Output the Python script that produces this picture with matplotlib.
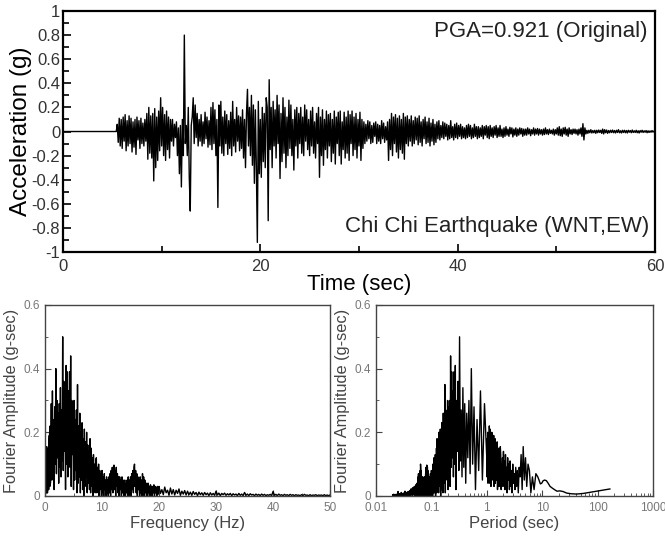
import numpy as np
import matplotlib
matplotlib.use("Agg")
import matplotlib.pyplot as plt
from matplotlib.ticker import MultipleLocator, FuncFormatter, LogLocator

plt.rcParams["font.family"] = ["Liberation Sans", "DejaVu Sans"]
plt.rcParams["axes.unicode_minus"] = False

# accelerogram, dt = 0.1 s, flat before the P-wave arrival
dt = 0.1
acc_pre = np.zeros(50)  # 0.0 - 4.9 s
acc = [
    # 5 s
    0, 0, 0, 0, 0, 0.06, -0.09, 0.11, -0.12, 0.1,
    -0.14, 0.12, -0.08, 0.14, -0.16, 0.09, -0.12, 0.13, -0.1, 0.11,
    -0.17, 0.08, -0.13, 0.1, -0.19, 0.12, -0.07, 0.09, -0.14, 0.11,
    -0.1, 0.07, -0.12, 0.1, -0.08, 0.15, -0.23, 0.2, -0.18, 0.13,
    -0.22, 0.15, -0.41, 0.19, -0.3, 0.12, -0.24, 0.17, -0.16, 0.28,
    # 10 s
    -0.12, 0.2, -0.2, 0.14, -0.24, 0.17, -0.15, 0.12, -0.22, 0.1,
    -0.08, 0.1, -0.12, 0.06, -0.05, 0.08, -0.2, 0.03, -0.35, 0.05,
    -0.46, 0.1, -0.2, 0.80, -0.1, 0.05, -0.2, 0.2, -0.38, -0.66,
    0.05, 0.12, 0.28, -0.1, 0.22, -0.05, 0.15, -0.12, 0.1, -0.08,
    0.14, -0.12, 0.08, -0.1, 0.16, -0.06, 0.12, -0.13, 0.09, -0.11,
    # 15 s
    0.2, -0.15, 0.24, -0.1, 0.18, -0.2, 0.1, -0.63, 0.22, -0.12,
    0.25, -0.18, 0.12, -0.2, 0.17, -0.1, 0.14, -0.19, 0.09, -0.14,
    0.16, -0.2, 0.25, -0.12, 0.1, -0.17, 0.2, -0.08, 0.13, -0.16,
    0.12, -0.14, 0.18, -0.22, 0.1, -0.3, 0.15, 0.35, -0.12, 0.2,
    -0.2, 0.3, -0.28, 0.22, -0.43, 0.18, -0.3, -0.92, 0.25, -0.35,
    # 20 s
    0.1, -0.38, 0.2, -0.25, 0.15, -0.3, 0.28, 0.2, -0.74, 0.43,
    -0.15, 0.2, -0.3, 0.25, -0.12, 0.18, -0.22, 0.3, -0.1, 0.22,
    -0.39, 0.15, -0.25, 0.28, -0.18, 0.2, -0.3, 0.12, -0.2, 0.26,
    -0.14, 0.22, -0.2, 0.1, -0.32, 0.18, -0.12, 0.2, -0.22, 0.15,
    -0.1, 0.2, -0.18, 0.12, -0.2, 0.22, -0.08, 0.18, -0.15, 0.1,
    # 25 s
    -0.2, 0.17, -0.12, 0.2, -0.18, 0.08, -0.22, 0.15, -0.1, 0.2,
    -0.38, 0.12, -0.2, 0.18, -0.28, 0.1, -0.15, 0.17, -0.22, 0.14,
    -0.12, 0.15, -0.25, 0.1, -0.18, 0.17, -0.27, 0.12, -0.1, 0.16,
    -0.2, 0.17, -0.27, 0.08, -0.15, 0.16, -0.22, 0.12, -0.18, 0.17,
    -0.24, 0.14, -0.1, 0.17, -0.2, 0.12, -0.15, 0.15, -0.22, 0.1,
    # 30 s
    -0.12, 0.16, -0.24, 0.1, -0.14, 0.08, -0.1, 0.06, -0.08, 0.09,
    -0.06, 0.08, -0.1, 0.05, -0.09, 0.07, -0.04, 0.08, -0.1, 0.06,
    -0.08, 0.05, -0.1, 0.09, -0.06, 0.07, -0.09, 0.04, -0.07, 0.08,
    -0.24, 0.1, -0.15, 0.15, -0.2, 0.12, -0.1, 0.14, -0.17, 0.11,
    -0.22, 0.13, -0.15, 0.1, -0.18, 0.15, -0.23, 0.12, -0.1, 0.13,
    # 35 s
    -0.12, 0.1, -0.08, 0.13, -0.12, 0.09, -0.1, 0.12, -0.07, 0.11,
    -0.11, 0.13, -0.09, 0.08, -0.12, 0.1, -0.06, 0.12, -0.1, 0.08,
    -0.09, 0.11, -0.12, 0.07, -0.08, 0.1, -0.11, 0.06, -0.09, 0.08,
    -0.06, 0.09, -0.07, 0.05, -0.05, 0.08, -0.06, 0.07, -0.04, 0.06,
    -0.07, 0.05, -0.06, 0.09, -0.05, 0.04, -0.07, 0.06, -0.05, 0.07,
    # 40 s
    -0.06, 0.05, -0.04, 0.06, -0.06, 0.04, -0.05, 0.03, -0.06, 0.05,
    -0.05, 0.06, -0.04, 0.05, -0.06, 0.03, -0.05, 0.06, -0.04, 0.04,
    -0.06, 0.04, -0.05, 0.03, -0.04, 0.05, -0.06, 0.04, -0.03, 0.05,
    -0.05, 0.04, -0.06, 0.05, -0.04, 0.03, -0.05, 0.04, -0.03, 0.05,
    -0.05, 0.03, -0.04, 0.05, -0.04, 0.02, -0.05, 0.03, -0.04, 0.04,
    # 45 s
    -0.03, 0.02, -0.04, 0.035, -0.02, 0.03, -0.045, 0.02, -0.03, 0.03,
    -0.04, 0.02, -0.03, 0.03, -0.02, 0.025, -0.04, 0.02, -0.03, 0.02,
    -0.03, 0.03, -0.02, 0.02, -0.035, 0.015, -0.02, 0.03, -0.03, 0.02,
    -0.02, 0.025, -0.03, 0.02, -0.02, 0.015, -0.03, 0.02, -0.025, 0.03,
    -0.02, 0.015, -0.025, 0.02, -0.015, 0.01, -0.02, 0.02, -0.03, 0.015,
    # 50 s
    -0.02, 0.03, -0.03, 0.04, -0.035, 0.02, -0.04, 0.03, -0.02, 0.035,
    -0.03, 0.02, -0.04, 0.03, -0.02, 0.015, -0.025, 0.02, -0.015, 0.02,
    -0.02, 0.015, -0.03, 0.02, -0.02, 0.03, -0.04, 0.065, -0.07, 0.03,
    -0.02, 0.01, -0.015, 0.01, -0.01, 0.015, -0.012, 0.008, -0.01, 0.01,
    -0.015, 0.01, -0.01, 0.012, -0.008, 0.01, -0.015, 0.02, -0.02, 0.015,
    # 55 s
    -0.01, 0.012, -0.015, 0.008, -0.01, 0.01, -0.008, 0.012, -0.01, 0.008,
    -0.012, 0.01, -0.008, 0.015, -0.01, 0.006, -0.012, 0.01, -0.008, 0.01,
    -0.01, 0.008, -0.012, 0.01, -0.006, 0.008, -0.01, 0.012, -0.008, 0.006,
    -0.008, 0.01, -0.01, 0.006, -0.012, 0.008, -0.006, 0.01, -0.008, 0.006,
    -0.006, 0.008, -0.01, 0.006, -0.008, 0.005, -0.006, 0.008, -0.005, 0.004,
    0.0,
]

# Fourier amplitude (g-sec), stored in frequency bands with their own step
amp_lo = [  # 0.006 - 0.120 Hz, step 0.006
    0.022, 0.013, 0.008, 0.006, 0.007, 0.009, 0.014, 0.016, 0.015, 0.02,
    0.025, 0.03, 0.04, 0.048, 0.05, 0.048, 0.04, 0.038, 0.05, 0.06,
]
amp_mid = [  # 0.13 - 0.99 Hz, step 0.01
    0.07, 0.02, 0.06, 0.01, 0.08, 0.10, 0.03,
    0.12, 0.05, 0.155, 0.02, 0.13, 0.06, 0.09, 0.01, 0.08, 0.03,
    0.09, 0.02, 0.07, 0.04, 0.1, 0.01, 0.08, 0.03, 0.11, 0.02,
    0.1, 0.05, 0.12, 0.01, 0.09, 0.06, 0.13, 0.02, 0.11, 0.04,
    0.14, 0.03, 0.12, 0.06, 0.1, 0.02, 0.13, 0.155, 0.05, 0.12,
    0.03, 0.15, 0.07, 0.12, 0.02, 0.17, 0.05, 0.14, 0.08, 0.16,
    0.04, 0.18, 0.09, 0.15, 0.03, 0.19, 0.06, 0.17, 0.1, 0.14,
    0.05, 0.2, 0.08, 0.16, 0.03, 0.18, 0.1, 0.21, 0.04, 0.17,
    0.22, 0.07, 0.19, 0.11, 0.16, 0.04, 0.2, 0.09, 0.18, 0.06,
]
amp_main = [  # 1.0 - 19.9 Hz, step 0.1
    0.12, 0.29, 0.05, 0.33, 0.08, 0.24, 0.02, 0.28, 0.1, 0.40,
    0.07, 0.3, 0.12, 0.26, 0.04, 0.29, 0.09, 0.34, 0.06, 0.27,
    0.11, 0.50, 0.08, 0.36, 0.14, 0.3, 0.02, 0.41, 0.1, 0.39,
    0.06, 0.33, 0.12, 0.39, 0.09, 0.44, 0.03, 0.3, 0.13, 0.28,
    0.02, 0.3, 0.05, 0.24, 0.08, 0.27, 0.01, 0.35, 0.04, 0.22,
    0.06, 0.26, 0.01, 0.2, 0.05, 0.23, 0.02, 0.18, 0.0, 0.21,
    0.03, 0.17, 0.06, 0.2, 0.01, 0.16, 0.04, 0.14, 0.02, 0.18,
    0.01, 0.15, 0.03, 0.12, 0.0, 0.13, 0.02, 0.1, 0.01, 0.11,
    0.12, 0.01, 0.09, 0.02, 0.1, 0.0, 0.08, 0.02, 0.07, 0.0,
    0.08, 0.01, 0.06, 0.0, 0.07, 0.02, 0.05, 0.0, 0.06, 0.01,
    0.05, 0.0, 0.06, 0.01, 0.07, 0.0, 0.08, 0.02, 0.09, 0.01,
    0.07, 0.097, 0.02, 0.08, 0.0, 0.09, 0.03, 0.07, 0.01, 0.06,
    0.0, 0.06, 0.02, 0.05, 0.0, 0.06, 0.01, 0.05, 0.0, 0.04,
    0.05, 0.0, 0.04, 0.01, 0.05, 0.0, 0.06, 0.0, 0.05, 0.01,
    0.06, 0.0, 0.07, 0.02, 0.08, 0.01, 0.09, 0.10, 0.03, 0.08,
    0.01, 0.07, 0.0, 0.06, 0.02, 0.05, 0.0, 0.06, 0.01, 0.05,
    0.0, 0.07, 0.02, 0.06, 0.0, 0.05, 0.01, 0.04, 0.0, 0.04,
    0.0, 0.04, 0.01, 0.03, 0.0, 0.035, 0.01, 0.03, 0.0, 0.03,
    0.01, 0.035, 0.0, 0.03, 0.01, 0.025, 0.0, 0.03, 0.005, 0.02,
]
amp_hi = [  # 20.0 - 50.0 Hz, step 0.25
    0.03, 0.008, 0.02, 0.004, 0.028, 0.01, 0.018, 0.002, 0.025, 0.006,
    0.02, 0.003, 0.018, 0.008, 0.022, 0.002, 0.015, 0.006, 0.017, 0.003,
    0.015, 0.004, 0.012, 0.002, 0.014, 0.005, 0.011, 0.001, 0.012, 0.004,
    0.01, 0.002, 0.011, 0.004, 0.009, 0.001, 0.01, 0.003, 0.008, 0.002,
    0.015, 0.003, 0.009, 0.001, 0.008, 0.004, 0.009, 0.002, 0.007, 0.003,
    0.008, 0.001, 0.007, 0.003, 0.006, 0.001, 0.008, 0.002, 0.006, 0.001,
    0.011, 0.002, 0.006, 0.001, 0.007, 0.003, 0.005, 0.001, 0.006, 0.002,
    0.005, 0.001, 0.006, 0.002, 0.005, 0.001, 0.004, 0.002, 0.005, 0.001,
    0.014, 0.002, 0.005, 0.001, 0.006, 0.002, 0.004, 0.001, 0.005, 0.002,
    0.004, 0.001, 0.005, 0.002, 0.004, 0.001, 0.004, 0.002, 0.003, 0.001,
    0.004, 0.001, 0.005, 0.002, 0.003, 0.001, 0.004, 0.001, 0.003, 0.002,
    0.004, 0.001, 0.003, 0.002, 0.003, 0.001, 0.004, 0.001, 0.003, 0.001,
    0.003,
]

pga_text = "PGA=0.921 (Original)"
eq_text = "Chi Chi Earthquake (WNT,EW)"

# build the axes
acc_all = np.concatenate([acc_pre, np.array(acc)])
t = np.arange(len(acc_all)) * dt

freq = np.concatenate([
    (np.arange(len(amp_lo)) + 1) * 0.006,
    0.13 + np.arange(len(amp_mid)) * 0.01,
    1.0 + np.arange(len(amp_main)) * 0.1,
    20.0 + np.arange(len(amp_hi)) * 0.25,
])
amp = np.concatenate([amp_lo, amp_mid, amp_main, amp_hi])
period = 1.0 / freq

fig = plt.figure(figsize=(6.65, 5.37), dpi=100)
ax1 = fig.add_axes([0.0947, 0.5307, 0.8902, 0.4488])
ax2 = fig.add_axes([0.0677, 0.0764, 0.4286, 0.3557])
ax3 = fig.add_axes([0.5654, 0.0764, 0.4165, 0.3557])

# acceleration time history
ax1.plot(t, acc_all, color="black", lw=1.0)
ax1.set_xlim(0, 60)
ax1.set_ylim(-1, 1)
ax1.xaxis.set_major_locator(MultipleLocator(20))
ax1.xaxis.set_minor_locator(MultipleLocator(10))
ax1.yaxis.set_major_locator(MultipleLocator(0.2))
ax1.yaxis.set_minor_locator(MultipleLocator(0.1))
ax1.yaxis.set_major_formatter(FuncFormatter(lambda v, p: "%g" % round(v, 1)))
ax1.tick_params(which="both", direction="in", top=False, right=False,
                labelsize=12, labelcolor="#333333", width=1.2)
ax1.tick_params(axis="y", pad=2)
ax1.tick_params(axis="x", pad=5)
ax1.tick_params(which="major", length=6)
ax1.tick_params(which="minor", length=4)
for s in ax1.spines.values():
    s.set_linewidth(1.6)
ax1.set_xlabel("Time (sec)", fontsize=16, labelpad=0)
ax1.set_ylabel("Acceleration (g)", fontsize=17.5, labelpad=0)
ax1.text(0.988, 0.915, pga_text, transform=ax1.transAxes, ha="right", va="center",
         fontsize=16, color="#222222")
ax1.text(0.99, 0.104, eq_text, transform=ax1.transAxes, ha="right", va="center",
         fontsize=16, color="#222222")

# Fourier amplitude spectra
for ax in (ax2, ax3):
    ax.set_ylim(0, 0.6)
    ax.yaxis.set_major_locator(MultipleLocator(0.2))
    ax.yaxis.set_minor_locator(MultipleLocator(0.1))
    ax.yaxis.set_major_formatter(FuncFormatter(lambda v, p: "%g" % round(v, 1)))
    ax.tick_params(which="both", direction="in", top=False, right=False,
                   labelsize=8.5, labelcolor="#777777", color="#444444")
    ax.tick_params(axis="x", pad=4.5)
    ax.tick_params(which="major", length=4)
    ax.tick_params(which="minor", length=2.5)
    for s in ax.spines.values():
        s.set_linewidth(1.0)
        s.set_color("#444444")
    ax.set_ylabel("Fourier Amplitude (g-sec)", fontsize=11.8, color="#444444", labelpad=3)

ax2.plot(freq, amp, color="black", lw=1.0)
ax2.set_xlim(0, 50)
ax2.xaxis.set_major_locator(MultipleLocator(10))
ax2.xaxis.set_minor_locator(MultipleLocator(5))
ax2.set_xlabel("Frequency (Hz)", fontsize=12, color="#444444", labelpad=1)

ax3.plot(period, amp, color="black", lw=1.0)
ax3.set_xscale("log")
ax3.set_xlim(0.01, 1000)
ax3.xaxis.set_major_locator(LogLocator(base=10, numticks=10))
ax3.xaxis.set_minor_locator(LogLocator(base=10, subs=np.arange(2, 10), numticks=10))
ax3.xaxis.set_major_formatter(FuncFormatter(lambda v, p: "%g" % v))
ax3.set_xlabel("Period (sec)", fontsize=12, color="#444444", labelpad=1)

fig.savefig("out.png", dpi=100)
